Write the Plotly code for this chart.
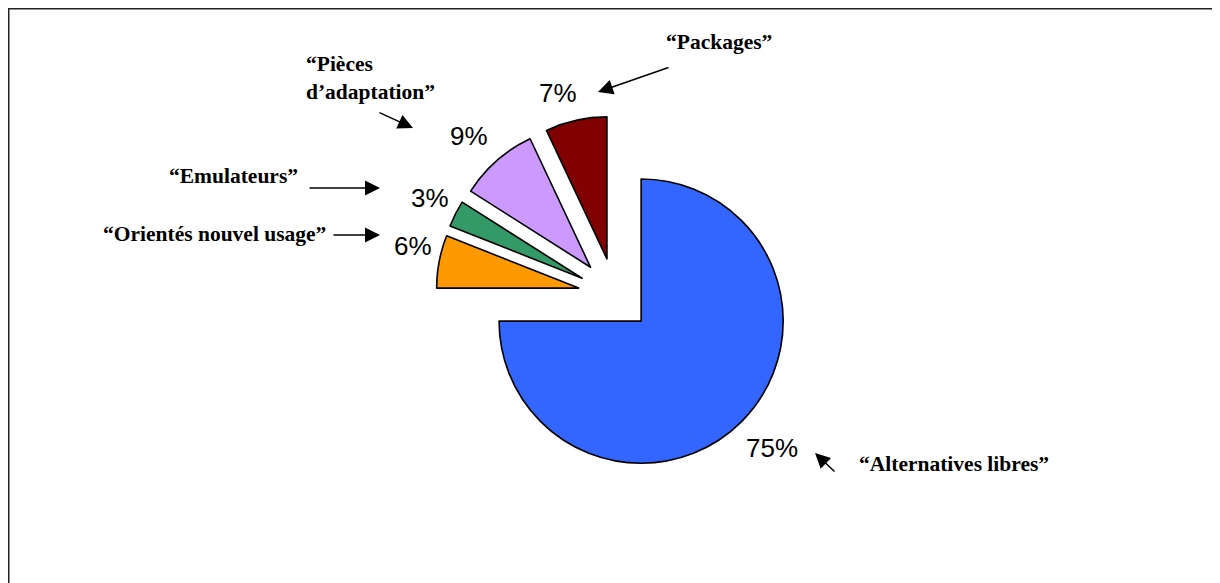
import plotly.graph_objects as go

OFF = 8  # the page body margin shifts the figure by 8 px
W, H = 1220 - OFF, 583 - OFF

# slices, clockwise from 12 o'clock
categories = ['Alternatives libres', 'Orientés nouvel usage', 'Emulateurs',
              "Pièces d'adaptation", 'Packages']
shares = [75, 6, 3, 9, 7]
slice_colors = ['#3366FF', '#FF9900', '#339966', '#CC99FF', '#800000']

# where each percentage sits on screen (px)
pct_pos = [(772, 448), (413, 246), (430, 198), (469, 136), (558, 93)]

# call-out labels: (text, text x, text y, anchor, arrow tip x, tip y, arrow ax, ay)  -- screen px
callouts = [
    ('<b>“Packages”</b>', 719, 42, 'center', 598, 92, 72, -25),
    ('<b>“Pièces<br>d’adaptation”</b>', 304, 78, 'left', 413, 128, -35, -16),
    ('<b>“Emulateurs”</b>', 300, 176, 'right', 380, 188, -72, 0),
    ('<b>“Orientés nouvel usage”</b>', 328, 234, 'right', 380, 235, -48, 0),
    ('<b>“Alternatives libres”</b>', 857, 464, 'left', 815, 453, 21, 20),
]


def px(x):
    return (x - OFF) / W


def py(y):
    return 1 - (y - OFF) / H


# pie box: centre (615, 295) px, radius 142 px, pull 0.26 -> box side 358 px
cx, cy, side = 615, 295, 358

fig = go.Figure(go.Pie(
    labels=categories,
    values=shares,
    sort=False,
    direction='clockwise',
    rotation=0,
    pull=[0.26] * len(shares),
    marker=dict(colors=slice_colors, line=dict(color='black', width=1.6)),
    textinfo='none',
    domain=dict(x=[px(cx - side / 2), px(cx + side / 2)],
                y=[py(cy + side / 2), py(cy - side / 2)]),
    showlegend=False,
    hoverinfo='label+percent',
))

annotations = []
for v, (lx, ly) in zip(shares, pct_pos):
    annotations.append(dict(
        xref='paper', yref='paper', x=px(lx), y=py(ly), text=f'{v}%', showarrow=False,
        xanchor='center', yanchor='middle',
        font=dict(family='Liberation Sans, Arial', size=26, color='black'),
    ))

for text, tx, ty, anchor, ax_, ay_, dx, dy in callouts:
    annotations.append(dict(
        xref='paper', yref='paper', x=px(tx), y=py(ty),
        text=text, showarrow=False, xanchor=anchor, yanchor='middle', align='left',
        font=dict(family='Liberation Serif, Times New Roman, serif', size=21.5, color='black'),
    ))
    annotations.append(dict(
        xref='paper', yref='paper', x=px(ax_), y=py(ay_),
        text='', showarrow=True, ax=dx, ay=dy,
        arrowhead=2, arrowsize=2, arrowwidth=1.5, arrowcolor='black',
    ))

fig.update_layout(
    width=W, height=H,
    margin=dict(l=0, r=0, t=0, b=0),
    paper_bgcolor='white',
    plot_bgcolor='white',
    annotations=annotations,
    shapes=[
        dict(type='line', xref='paper', yref='paper', x0=0, x1=1, y0=1, y1=1,
             line=dict(color='#222222', width=3)),
        dict(type='line', xref='paper', yref='paper', x0=0, x1=0, y0=0, y1=1,
             line=dict(color='#222222', width=3)),
    ],
)

fig.write_html('out.html')
